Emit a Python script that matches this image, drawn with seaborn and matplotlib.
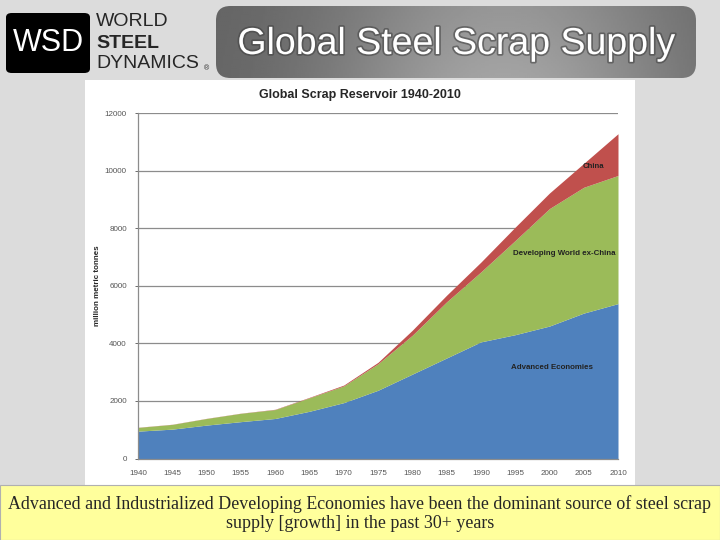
import numpy as np
import seaborn as sns
import matplotlib.pyplot as plt
from matplotlib.patches import FancyBboxPatch, Rectangle
from matplotlib import patheffects as pe

# scrap reservoir, million metric tonnes
years = [1940, 1945, 1950, 1955, 1960, 1965, 1970, 1975,
         1980, 1985, 1990, 1995, 2000, 2005, 2010]
advanced = [950, 1020, 1160, 1280, 1390, 1640, 1940, 2370,
            2930, 3490, 4050, 4300, 4600, 5050, 5380]
developing = [130, 165, 230, 290, 310, 470, 580, 920,
              1350, 1950, 2430, 3270, 4080, 4370, 4450]
china = [5, 5, 5, 5, 10, 15, 30, 50,
         175, 230, 340, 465, 540, 830, 1450]

series_names = ["Advanced Economies", "Developing World ex-China", "China"]
colors = ["#4f81bd", "#9bbb59", "#c0504d"]
y_ticks = [0, 2000, 4000, 6000, 8000, 10000, 12000]

sns.set_style("white")
plt.rcParams['font.family'] = ['Liberation Sans', 'DejaVu Sans']

W, H = 720, 540
fig = plt.figure(figsize=(7.2, 5.4), dpi=100)
fig.patch.set_facecolor("#dcdcdc")

def fx(px):
    return px / W

def fy(py):
    return 1 - py / H

# white chart panel and yellow caption strip
fig.patches.append(Rectangle((fx(85), fy(485)), 550 / W, 405 / H,
                             transform=fig.transFigure, facecolor="white",
                             edgecolor="none", zorder=-5))
fig.patches.append(Rectangle((0, 0), 1, 55 / H, transform=fig.transFigure,
                             facecolor="#ffff9c", edgecolor="#b0b0b0",
                             lw=0.8, zorder=-5))

# logo
fig.patches.append(FancyBboxPatch((fx(6), fy(73)), 84 / W, 60 / H,
                                  boxstyle="round,pad=0,rounding_size=0.008",
                                  transform=fig.transFigure, facecolor="black",
                                  edgecolor="none", zorder=-4))
fig.text(fx(48), fy(43), "WSD", color="white", fontsize=22,
         ha="center", va="center")
fig.text(fx(96), fy(21), "WORLD", fontsize=14, ha="left", va="center")
fig.text(fx(96), fy(43), "STEEL", fontsize=14, fontweight="bold",
         ha="left", va="center")
fig.text(fx(96), fy(64), "DYNAMICS", fontsize=14, ha="left", va="center")
fig.text(fx(204), fy(69), "®", fontsize=5, ha="left", va="center")

# metallic title banner
bx = fig.add_axes([fx(216), fy(78), 480 / W, 72 / H])
bx.set_axis_off()
gx = np.linspace(0, 1, 240)
gy = np.linspace(0, 1, 40)
GX, GY = np.meshgrid(gx, gy)
shade = 0.38 + 0.26 * np.exp(-((GX - 0.6) / 0.38) ** 2) * (0.8 + 0.2 * GY)
im = bx.imshow(shade, cmap="gray", vmin=0, vmax=1, aspect="auto",
               extent=[0, 1, 0, 1], origin="upper")
clip = FancyBboxPatch((0, 0), 1, 1, boxstyle="round,pad=0,rounding_size=0.03",
                      transform=bx.transAxes, facecolor="none",
                      edgecolor="none", mutation_aspect=480 / 72)
bx.add_patch(clip)
im.set_clip_path(clip)
bx.set_xlim(0, 1)
bx.set_ylim(0, 1)
fig.text(fx(456), fy(44), "Global Steel Scrap Supply", color="white",
         fontsize=27, ha="center", va="center",
         path_effects=[pe.withStroke(linewidth=2.5, foreground="#444444",
                                     alpha=0.6)])

# chart
ax = fig.add_axes([fx(138), fy(458.5), 480 / W, 345.5 / H], zorder=2)
ax.set_facecolor("white")
ax.stackplot(years, advanced, developing, china, colors=colors,
             labels=series_names, lw=0, zorder=2)
ax.set_xlim(1940, 2010)
ax.set_ylim(0, 12000)
ax.set_xticks(years)
ax.set_yticks(y_ticks)
ax.tick_params(labelsize=5.8, colors="#555555", length=2, width=0.6)
ax.tick_params(axis="y", left=True, pad=6)
ax.tick_params(axis="x", bottom=False, pad=6)
ax.grid(axis="y", color="#8c8c8c", lw=0.9, zorder=1)
ax.set_axisbelow(True)
sns.despine(ax=ax, top=True, right=True)
for s in ["left", "bottom"]:
    ax.spines[s].set_color("#8c8c8c")
    ax.spines[s].set_linewidth(0.9)
ax.set_ylabel("million metric tonnes", fontsize=5.8, fontweight="bold",
              labelpad=3)

fig.text(fx(360), fy(95), "Global Scrap Reservoir 1940-2010",
         fontsize=9, fontweight="bold", ha="center", va="center")

ax.text(2008.0, 10140, "China", fontsize=5.6, fontweight="bold",
        ha="right", va="center", color="#222222", zorder=3)
ax.text(2002.2, 7120, "Developing World ex-China", fontsize=5.7,
        fontweight="bold", ha="center", va="center", color="#222222", zorder=3)
ax.text(2000.4, 3170, "Advanced Economies", fontsize=5.7, fontweight="bold",
        ha="center", va="center", color="#222222", zorder=3)

# caption
fig.text(0.5, fy(504), "Advanced and Industrialized Developing Economies have "
         "been the dominant source of steel scrap", family="Liberation Serif",
         fontsize=12.9, ha="center", va="center")
fig.text(0.5, fy(524), "supply [growth] in the past 30+ years",
         family="Liberation Serif", fontsize=12.9, ha="center", va="center")

fig.savefig("out.png", dpi=100, facecolor=fig.get_facecolor())
